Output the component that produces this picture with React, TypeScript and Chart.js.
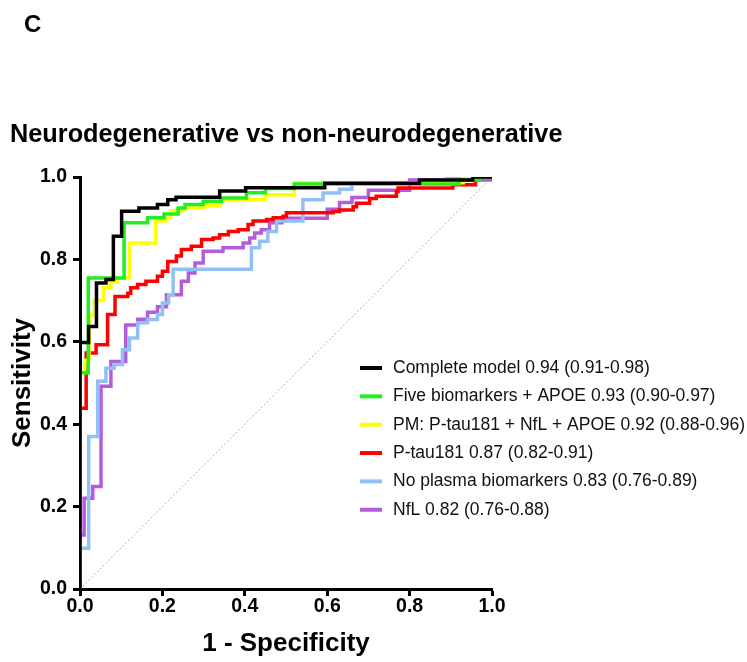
import React, { useEffect, useRef } from "react";
import { Chart, registerables } from "chart.js";

Chart.register(...registerables);

const FONT = "'Liberation Sans', Arial, Helvetica, sans-serif";

const panelLetter = "C";
const chartTitle = "Neurodegenerative vs non-neurodegenerative";
const xAxisTitle = "1 - Specificity";
const yAxisTitle = "Sensitivity";
const axisTicks = [0, 0.2, 0.4, 0.6, 0.8, 1.0];

const seriesLabels = [
  "Complete model 0.94 (0.91-0.98)",
  "Five biomarkers + APOE 0.93 (0.90-0.97)",
  "PM: P-tau181 + NfL + APOE 0.92 (0.88-0.96)",
  "P-tau181 0.87 (0.82-0.91)",
  "No plasma biomarkers 0.83 (0.76-0.89)",
  "NfL 0.82 (0.76-0.88)",
];
const seriesColors = ["#000000", "#22ee22", "#ffff00", "#ff0000", "#90c0f4", "#b35cdc"];

// ROC corner points [1 - specificity, sensitivity]; each step runs horizontally, then up
const completeModelRoc = [
  [0, 0], [0, 0.598], [0.021, 0.637], [0.04, 0.743], [0.063, 0.751], [0.081, 0.856],
  [0.101, 0.917], [0.143, 0.925], [0.188, 0.933], [0.213, 0.945], [0.233, 0.951],
  [0.339, 0.966], [0.402, 0.974], [0.594, 0.985], [0.824, 0.993], [0.953, 1], [1, 1],
];
const fiveBiomarkersRoc = [
  [0, 0], [0, 0.525], [0.02, 0.755], [0.107, 0.889], [0.164, 0.901], [0.204, 0.91],
  [0.238, 0.925], [0.255, 0.933], [0.299, 0.941], [0.343, 0.949], [0.404, 0.962],
  [0.45, 0.972], [0.52, 0.983], [0.92, 0.993], [0.97, 1], [1, 1],
];
const plasmaModelRoc = [
  [0, 0], [0, 0.525], [0.012, 0.555], [0.022, 0.665], [0.035, 0.7], [0.057, 0.731],
  [0.075, 0.745], [0.09, 0.755], [0.12, 0.84], [0.184, 0.893], [0.208, 0.9], [0.22, 0.918],
  [0.25, 0.925], [0.3, 0.93], [0.34, 0.945], [0.45, 0.957], [0.52, 0.986], [0.93, 1], [1, 1],
];
const pTau181Roc = [
  [0, 0], [0, 0.439], [0.015, 0.573], [0.039, 0.593], [0.067, 0.666], [0.085, 0.71],
  [0.116, 0.718], [0.123, 0.731], [0.14, 0.739], [0.16, 0.747], [0.188, 0.759], [0.2, 0.771],
  [0.213, 0.795], [0.234, 0.808], [0.246, 0.824], [0.27, 0.832], [0.295, 0.848], [0.323, 0.852],
  [0.339, 0.86], [0.36, 0.868], [0.384, 0.872], [0.408, 0.885], [0.42, 0.893], [0.453, 0.897],
  [0.469, 0.901], [0.493, 0.905], [0.501, 0.913], [0.614, 0.916], [0.63, 0.92], [0.663, 0.928],
  [0.671, 0.936], [0.703, 0.948], [0.719, 0.953], [0.768, 0.965], [0.772, 0.973], [0.905, 0.981],
  [0.96, 1], [1, 1],
];
const noPlasmaRoc = [
  [0, 0], [0, 0.099], [0.021, 0.37], [0.043, 0.504], [0.063, 0.536], [0.083, 0.545],
  [0.103, 0.581], [0.12, 0.609], [0.14, 0.646], [0.164, 0.654], [0.188, 0.666], [0.2, 0.694],
  [0.215, 0.714], [0.226, 0.776], [0.416, 0.828], [0.436, 0.844], [0.456, 0.868], [0.477, 0.893],
  [0.541, 0.945], [0.59, 0.961], [0.63, 0.97], [0.66, 0.985], [0.89, 1], [1, 1],
];
const nflRoc = [
  [0, 0], [0, 0.131], [0.01, 0.22], [0.031, 0.249], [0.051, 0.492], [0.075, 0.552],
  [0.111, 0.641], [0.14, 0.655], [0.164, 0.672], [0.188, 0.685], [0.21, 0.714], [0.246, 0.747],
  [0.263, 0.767], [0.279, 0.791], [0.299, 0.82], [0.347, 0.828], [0.396, 0.84], [0.412, 0.852],
  [0.424, 0.864], [0.44, 0.872], [0.46, 0.889], [0.49, 0.9], [0.6, 0.922], [0.63, 0.938],
  [0.66, 0.95], [0.7, 0.968], [0.8, 0.993], [1, 1],
];
const chanceLine = [[0, 0], [1, 1]];

const rocSeries = [completeModelRoc, fiveBiomarkersRoc, plasmaModelRoc, pTau181Roc, noPlasmaRoc, nflRoc];

const headerPlugin = {
  id: "panelHeader",
  afterDraw(chart: any) {
    const ctx = chart.ctx;
    ctx.save();
    ctx.fillStyle = "#000";
    ctx.textBaseline = "alphabetic";
    ctx.textAlign = "left";
    ctx.font = `bold 24px ${FONT}`;
    ctx.fillText(panelLetter, 24, 32);
    ctx.font = `bold 25.3px ${FONT}`;
    ctx.fillText(chartTitle, 10, 142);
    ctx.restore();
  },
};

const legendPlugin = {
  id: "rocLegend",
  afterDraw(chart: any) {
    const ctx = chart.ctx;
    const area = chart.chartArea;
    ctx.save();
    ctx.font = `17.5px ${FONT}`;
    ctx.textBaseline = "middle";
    ctx.textAlign = "left";
    seriesLabels.forEach((label, i) => {
      const y = area.top + 191 + i * 28.35;
      ctx.strokeStyle = seriesColors[i];
      ctx.lineWidth = 4;
      ctx.beginPath();
      ctx.moveTo(area.left + 280, y);
      ctx.lineTo(area.left + 302, y);
      ctx.stroke();
      ctx.fillStyle = "#111";
      ctx.fillText(label, area.left + 313, y);
    });
    ctx.restore();
  },
};

export default function App() {
  const canvasRef = useRef<HTMLCanvasElement | null>(null);

  useEffect(() => {
    if (!canvasRef.current) return;
    Chart.defaults.font.family = FONT;
    Chart.defaults.color = "#000";

    const datasets: any[] = rocSeries.map((points, i) => ({
      label: seriesLabels[i],
      data: points.map(([x, y]) => ({ x, y })),
      borderColor: seriesColors[i],
      backgroundColor: seriesColors[i],
      borderWidth: 3.5,
      // Chart.js 'before' draws the horizontal run first, then the rise
      stepped: "before",
      pointRadius: 0,
      fill: false,
      borderCapStyle: "butt",
      borderJoinStyle: "miter",
    }));
    datasets.push({
      label: "Chance",
      data: chanceLine.map(([x, y]) => ({ x, y })),
      borderColor: "#b5b5b5",
      borderWidth: 1,
      borderDash: [2, 2],
      pointRadius: 0,
      fill: false,
    });

    const axisCommon = (title: string, isX: boolean) => ({
      type: "linear",
      min: 0,
      max: 1,
      afterBuildTicks: (scale: any) => {
        scale.ticks = axisTicks.map((v) => ({ value: v }));
      },
      afterFit: (scale: any) => {
        if (isX) scale.height = 73;
        else scale.width = 80;
      },
      border: { display: true, width: 3, color: "#000" },
      grid: {
        display: true,
        drawOnChartArea: false,
        drawTicks: true,
        tickLength: 7,
        tickWidth: 3,
        tickColor: "#000",
      },
      ticks: {
        color: "#000",
        padding: isX ? 1 : 6,
        font: { size: 19.5, weight: "bold", lineHeight: 1 },
        callback: (v: any) => Number(v).toFixed(1),
      },
      title: {
        display: true,
        text: title,
        color: "#000",
        font: { size: 26, weight: "bold" },
        padding: isX ? { top: 0, bottom: 3 } : { top: 7, bottom: 0 },
      },
    });

    const chart = new Chart(canvasRef.current, {
      type: "line",
      data: { datasets },
      options: {
        animation: false,
        responsive: false,
        devicePixelRatio: 1,
        events: [],
        layout: { padding: { top: 177, right: 255, left: 0, bottom: 0 } },
        plugins: {
          legend: { display: false },
          tooltip: { enabled: false },
          title: { display: false },
        },
        scales: {
          x: axisCommon(xAxisTitle, true),
          y: axisCommon(yAxisTitle, false),
        } as any,
      },
      plugins: [headerPlugin, legendPlugin],
    } as any);

    return () => chart.destroy();
  }, []);

  return (
    <div style={{ position: "fixed", left: 0, top: 0, width: 747, height: 662, background: "#fff" }}>
      <canvas ref={canvasRef} width={747} height={662} style={{ width: 747, height: 662, display: "block" }} />
    </div>
  );
}
